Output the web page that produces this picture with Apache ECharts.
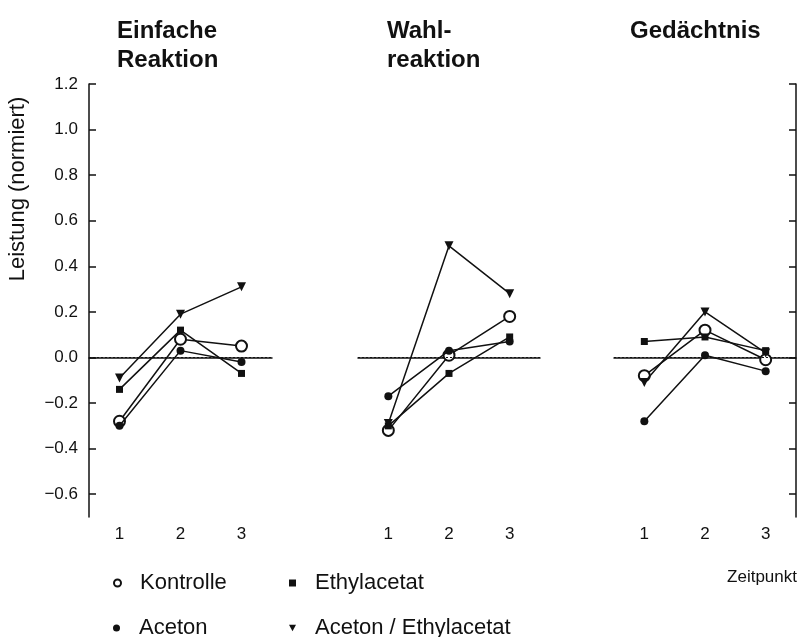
<!DOCTYPE html>
<html>
<head>
<meta charset="utf-8">
<script src="https://cdn.jsdelivr.net/npm/echarts@6/dist/echarts.min.js"></script>
<style>
  html, body { margin: 0; padding: 0; background: #fff; }
  #main { width: 801px; height: 637px; }
</style>
</head>
<body>
<div id="main"></div>
<script>
const zeitpunkte = ['1', '2', '3']
const yTicks = [-0.6, -0.4, -0.2, 0.0, 0.2, 0.4, 0.6, 0.8, 1.0, 1.2]

// Einfache Reaktion
const kontrolleEinfach = [-0.28, 0.08, 0.05]
const acetonEinfach = [-0.30, 0.03, -0.02]
const ethylEinfach = [-0.14, 0.12, -0.07]
const mixEinfach = [-0.09, 0.19, 0.31]

// Wahlreaktion
const kontrolleWahl = [-0.32, 0.01, 0.18]
const acetonWahl = [-0.17, 0.03, 0.07]
const ethylWahl = [-0.30, -0.07, 0.09]
const mixWahl = [-0.29, 0.49, 0.28]

// Gedaechtnis
const kontrolleGed = [-0.08, 0.12, -0.01]
const acetonGed = [-0.28, 0.01, -0.06]
const ethylGed = [0.07, 0.09, 0.03]
const mixGed = [-0.11, 0.20, 0.02]

const font = '"Liberation Sans", Arial, sans-serif'
const ink = '#111'
const triDown = 'path://M0,0 L10,0 L5,9 Z'

const groups = [
    {name: 'Kontrolle', symbol: 'emptyCircle', size: 11, rotate: 0, data: [kontrolleEinfach, kontrolleWahl, kontrolleGed]},
    {name: 'Aceton', symbol: 'circle', size: 8, rotate: 0, data: [acetonEinfach, acetonWahl, acetonGed]},
    {name: 'Ethylacetat', symbol: 'rect', size: 7, rotate: 0, data: [ethylEinfach, ethylWahl, ethylGed]},
    {name: 'Aceton / Ethylacetat', symbol: 'triangle', size: 9, rotate: 180, data: [mixEinfach, mixWahl, mixGed]},
]

const grids = [
    {left: 89, top: 84, width: 183, height: 433},
    {left: 358, top: 84, width: 182, height: 433},
    {left: 614, top: 84, width: 182, height: 433},
]

const makeX = (i) => ({
    type: 'category',
    gridIndex: i,
    data: zeitpunkte,
    boundaryGap: true,
    axisLine: {lineStyle: {color: ink, width: 1.5}},
    axisTick: {inside: true, alignWithLabel: true, length: 5, lineStyle: {color: ink}},
    axisLabel: {color: ink, fontSize: 17, fontFamily: font, margin: 9},
    splitLine: {show: false}
})

const makeY = (i) => {
    let y = {
        type: 'value',
        gridIndex: i,
        min: -0.7,
        max: 1.2,
        splitLine: {show: false},
        axisLine: {show: i !== 1, onZero: false, lineStyle: {color: ink, width: 1.5}},
        axisTick: {show: i !== 1, inside: true, length: 7, customValues: yTicks, lineStyle: {color: ink, width: 1.5}},
        axisLabel: {
            show: i === 0,
            customValues: yTicks,
            color: ink,
            fontSize: 17,
            fontFamily: font,
            margin: 11,
            formatter: v => (v < 0 ? '\u2212' : '') + Math.abs(v).toFixed(1)
        }
    }
    if (i === 2) y.position = 'right'
    return y
}

let series = []
for (let p = 0; p < 3; p++) {
    groups.forEach((g, k) => {
        let s = {
            name: g.name,
            type: 'line',
            xAxisIndex: p,
            yAxisIndex: p,
            data: g.data[p],
            symbol: g.symbol,
            symbolSize: g.size,
            symbolRotate: g.rotate,
            showAllSymbol: true,
            lineStyle: {color: ink, width: 1.5},
            itemStyle: {color: ink, borderWidth: g.symbol === 'emptyCircle' ? 1.5 : 0},
            z: 3 + k,
            animation: false
        }
        if (k === 0) {
            s.markLine = {
                silent: true,
                symbol: 'none',
                label: {show: false},
                lineStyle: {color: ink, type: [2, 2], width: 1.2},
                data: [{yAxis: 0}]
            }
        }
        series.push(s)
    })
}

// one legend per entry so the 2x2 layout can be placed freely
const legendItem = (name, icon, left, top) => ({
    orient: 'horizontal',
    left: left,
    top: top,
    padding: 0,
    itemWidth: 7,
    itemHeight: 7,
    selectedMode: false,
    textStyle: {color: ink, fontSize: 22, fontFamily: font, padding: [0, 0, 0, 14]},
    data: [{name: name, icon: icon}]
})

let option = {
    backgroundColor: '#fff',
    animation: false,
    title: [
        {text: 'Einfache\nReaktion', left: 112, top: 12},
        {text: 'Wahl-\nreaktion', left: 382, top: 12},
        {text: 'Gedächtnis', left: 625, top: 12}
    ].map(t => Object.assign(t, {textStyle: {color: ink, fontSize: 24, fontWeight: 'bold', fontFamily: font, lineHeight: 29}})),
    grid: grids,
    xAxis: [0, 1, 2].map(makeX),
    yAxis: [0, 1, 2].map(makeY),
    legend: [
        legendItem('Kontrolle', 'emptyCircle', 113, 572),
        legendItem('Aceton', 'circle', 113, 617),
        legendItem('Ethylacetat', 'rect', 289, 572),
        legendItem('Aceton / Ethylacetat', triDown, 289, 617)
    ],
    graphic: [
        {
            type: 'text',
            x: 18, y: 189,
            rotation: Math.PI / 2,
            style: {text: 'Leistung (normiert)', fill: ink, font: '22px ' + font, align: 'center', verticalAlign: 'middle'}
        },
        {
            type: 'text',
            right: 4, top: 569,
            style: {text: 'Zeitpunkt', fill: ink, font: '17px ' + font}
        }
    ],
    series: series
}

let myChart = echarts.init(document.getElementById('main'))
myChart.setOption(option)
</script>
</body>
</html>
